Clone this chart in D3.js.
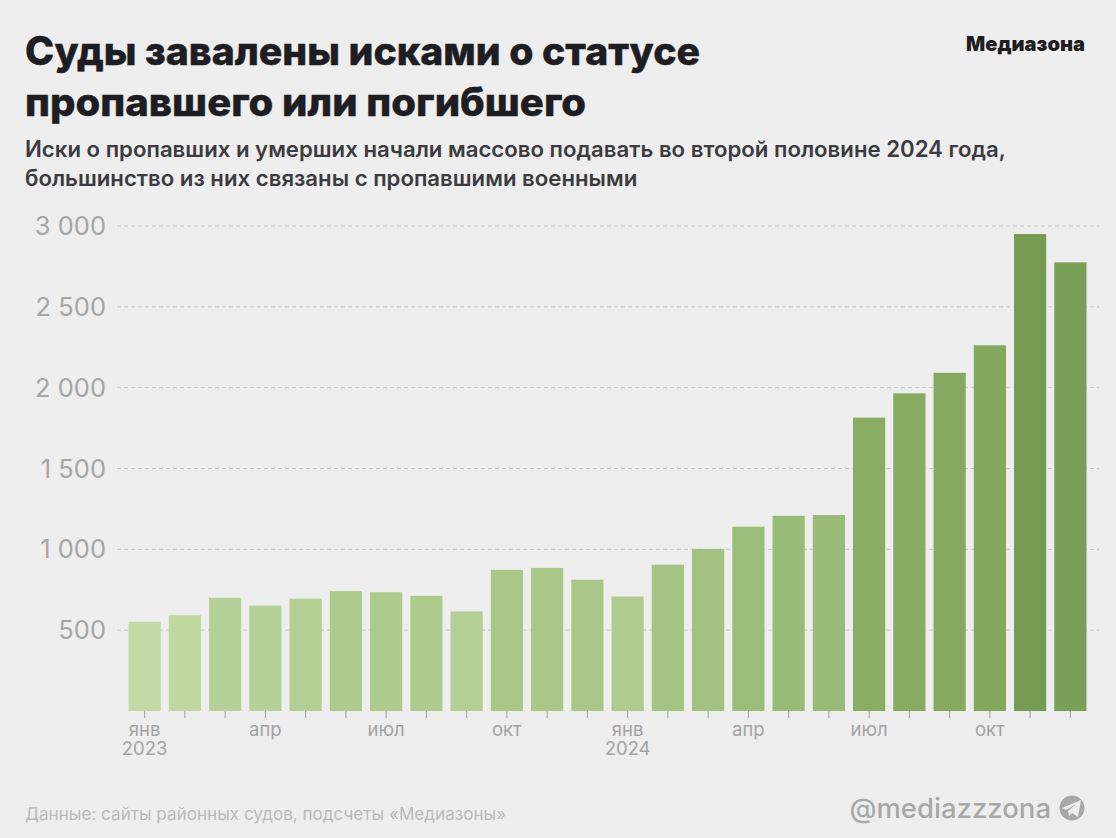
<!DOCTYPE html>
<html><head><meta charset="utf-8">
<script src="https://cdn.jsdelivr.net/npm/d3@7"></script>
<style>html,body{margin:0;padding:0;background:#eeeeee}svg{display:block}text{font-family:Inter,"Noto Sans",sans-serif}</style>
</head><body><svg id="c" width="1116" height="838"></svg>
<script>
const values=[552,592,700,652,695,742,735,712,616,873,885,812,708,905,1003,1140,1207,1212,1815,1965,2092,2262,2950,2775];
const colors=["#c2daa4","#bfd8a0","#b6d197","#b6d197","#b3cf94","#aecb8e","#aecb8e","#aecb8e","#b3cf94","#a9c888","#a9c888","#a9c888","#afcc8f","#a4c483","#a1c280","#9abd79","#98bb77","#98bb77","#88ad63","#86ab61","#84a95f","#83a85e","#769b52","#7a9f56"];
const yTicks=[500,1000,1500,2000,2500,3000];
const monthLabels={0:"янв",3:"апр",6:"июл",9:"окт",12:"янв",15:"апр",18:"июл",21:"окт"};
const yearLabels={0:"2023",12:"2024"};
const title=["Суды завалены исками о статусе","пропавшего или погибшего"];
const subtitle=["Иски о пропавших и умерших начали массово подавать во второй половине 2024 года,","большинство из них связаны с пропавшими военными"];
const fmt=v=>String(v).replace(/(\d)(\d{3})$/,"$1 $2");
const svg=d3.select("#c");
const x=d3.scaleBand().domain(d3.range(values.length)).range([124.5,1090.5]).paddingInner(0.2).paddingOuter(0.1);
const y=d3.scaleLinear().domain([0,3000]).range([711,226]);
svg.append("g").selectAll("line").data(yTicks).join("line").attr("x1",117).attr("x2",1099).attr("y1",d=>y(d)).attr("y2",d=>y(d)).attr("stroke","#c6c6c6").attr("stroke-width",1).attr("stroke-dasharray","4 3");
svg.append("g").selectAll("text").data(yTicks).join("text").attr("x",106).attr("y",d=>y(d)+9).attr("text-anchor","end").attr("font-size",25.5).attr("fill","#a6a6a6").text(fmt);
svg.append("g").selectAll("rect").data(values).join("rect").attr("x",(d,i)=>x(i)).attr("width",x.bandwidth()).attr("y",d=>y(d)).attr("height",d=>y(0)-y(d)).attr("fill",(d,i)=>colors[i]);
svg.append("g").selectAll("line").data(values).join("line").attr("x1",(d,i)=>x(i)+x.bandwidth()/2).attr("x2",(d,i)=>x(i)+x.bandwidth()/2).attr("y1",711).attr("y2",718).attr("stroke","#a0a0a0");
svg.append("g").selectAll("text").data(d3.range(values.length).filter(i=>monthLabels[i])).join("text").attr("x",i=>x(i)+x.bandwidth()/2).attr("y",736).attr("text-anchor","middle").attr("font-size",18.5).attr("fill","#a3a3a3").text(i=>monthLabels[i]);
svg.append("g").selectAll("text").data(d3.range(values.length).filter(i=>yearLabels[i])).join("text").attr("x",i=>x(i)+x.bandwidth()/2).attr("y",755).attr("text-anchor","middle").attr("font-size",18.5).attr("fill","#a3a3a3").text(i=>yearLabels[i]);
svg.append("g").selectAll("text").data(title).join("text").attr("x",25).attr("y",(d,i)=>65+i*51).attr("font-size",39).attr("font-weight",800).attr("stroke","#1d1d22").attr("stroke-width",0.4).attr("fill","#1d1d22").attr("textLength",(d,i)=>i?561:675).attr("lengthAdjust","spacingAndGlyphs").text(d=>d);
svg.append("g").selectAll("text").data(subtitle).join("text").attr("x",25).attr("y",(d,i)=>157+i*29).attr("font-size",22.2).attr("font-weight",600).attr("fill","#3c3c40").text(d=>d);
svg.append("text").attr("x",1085).attr("y",51).attr("text-anchor","end").attr("font-size",20.3).attr("font-weight",900).attr("fill","#1d1d22").attr("textLength",119).attr("lengthAdjust","spacingAndGlyphs").text("Медиазона");
svg.append("text").attr("x",25).attr("y",820).attr("font-size",17.1).attr("fill","#bababa").text("Данные: сайты районных судов, подсчеты «Медиазоны»");
svg.append("text").attr("x",1051).attr("y",818).attr("text-anchor","end").attr("font-size",27.5).attr("font-weight",500).attr("fill","#a8a8a8").text("@mediazzzona");
svg.append("circle").attr("cx",1072).attr("cy",808).attr("r",12.5).attr("fill","#a8a8a8");
svg.append("path").attr("d",d3.line()([[1062,808],[1081,800],[1078,817],[1072,813],[1069,816],[1068,811],[1076,804],[1066,810]])).attr("fill","#eeeeee");
</script></body></html>
